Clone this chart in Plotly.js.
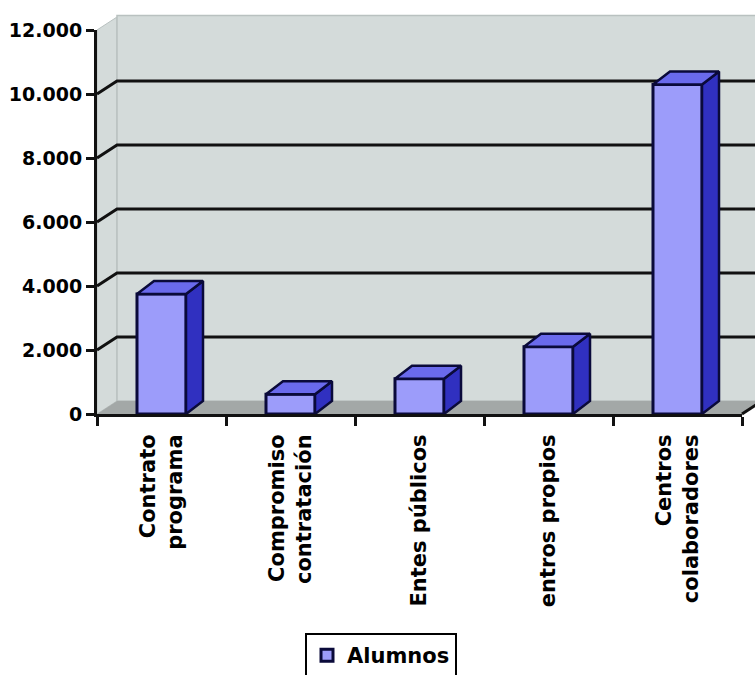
<!DOCTYPE html>
<html>
<head>
<meta charset="utf-8">
<script src="https://cdn.plot.ly/plotly-3.0.1.min.js"></script>
<style>html,body{margin:0;padding:0;background:#fff;}#chart{width:755px;height:675px;}</style>
</head>
<body>
<div id="chart"></div>
<script>
// ---- data ----
const categories = ['Contrato<br>programa', 'Compromiso<br>contratación', 'Entes públicos', 'entros propios', 'Centros<br>colaboradores'];
const alumnos = [3750, 620, 1100, 2100, 10300];
const yTickVals = [0, 2000, 4000, 6000, 8000, 10000, 12000];
const seriesName = 'Alumnos';

// ---- geometry / style ----
const W = 755, H = 675;
const M = {l: 97, r: 13, t: 30, b: 261, autoexpand: false};
const plotW = W - M.l - M.r, plotH = H - M.t - M.b;
const YMAX = 12000;
const xIdx = categories.map((c, i) => i);
const XMIN = -0.5, XMAX = categories.length - 0.5;
const BW = 0.38;
// depth offsets (pixels -> axis units)
const barDx = 17 * (XMAX - XMIN) / plotW;
const barDy = 13 * YMAX / plotH;
const wallDxP = 20 / plotW;        // paper units
const wallDyP = 13 / plotH;
const wallDy = 13 * YMAX / plotH;  // y units

const FONT = 'DejaVu Sans';
const wallCol = '#d4dbda', floorCol = '#a3a8a7', edgeCol = '#b9c1c0';
const frontCol = '#9c9cfa', sideCol = '#3030c0', topCol = '#6a6aec', outline = '#0a0a3a';

// side + top faces built from data values
const sideX = [], sideY = [], topX = [], topY = [];
alumnos.forEach((v, i) => {
  const xl = xIdx[i] - BW / 2, xr = xIdx[i] + BW / 2;
  sideX.push(xr, xr, xr + barDx, xr + barDx, xr, null);
  sideY.push(0, v, v + barDy, barDy, 0, null);
  topX.push(xl, xr, xr + barDx, xl + barDx, xl, null);
  topY.push(v, v, v + barDy, v + barDy, v, null);
});

const traces = [
  {type: 'bar', x: xIdx, y: alumnos, name: seriesName, width: BW,
   marker: {color: frontCol, line: {color: outline, width: 3}}, hoverinfo: 'y'},
  {type: 'scatter', mode: 'lines', x: sideX, y: sideY, fill: 'toself', fillcolor: sideCol,
   line: {color: outline, width: 2.5}, showlegend: false, hoverinfo: 'skip'},
  {type: 'scatter', mode: 'lines', x: topX, y: topY, fill: 'toself', fillcolor: topCol,
   line: {color: outline, width: 2.5}, showlegend: false, hoverinfo: 'skip'}
];

const shapes = [];
// side wall
shapes.push({type: 'path', xref: 'paper', yref: 'paper', layer: 'below',
  path: `M0,0 L0,1 L${wallDxP},${1 + wallDyP} L${wallDxP},${wallDyP} Z`,
  fillcolor: wallCol, line: {color: edgeCol, width: 1}});
// back wall
shapes.push({type: 'rect', xref: 'paper', yref: 'paper', layer: 'below',
  x0: wallDxP, x1: 1.1, y0: wallDyP, y1: 1 + wallDyP + 0.004,
  fillcolor: wallCol, line: {color: edgeCol, width: 1.5}});
// floor
shapes.push({type: 'path', xref: 'paper', yref: 'paper', layer: 'below',
  path: `M0,0 L${wallDxP},${wallDyP} L${1 + wallDxP},${wallDyP} L1,0 Z`,
  fillcolor: floorCol, line: {width: 0}});
// gridlines on back wall with diagonal connectors
yTickVals.filter(v => v > 0 && v < YMAX).forEach(v => {
  shapes.push({type: 'path', xref: 'paper', yref: 'y', layer: 'below',
    path: `M0,${v} L${wallDxP},${v + wallDy} L1.1,${v + wallDy}`,
    line: {color: '#111', width: 3}});
});
// x-axis end diagonal
shapes.push({type: 'line', xref: 'paper', yref: 'paper', layer: 'above',
  x0: 1, y0: 0, x1: 1 + wallDxP, y1: wallDyP, line: {color: '#111', width: 3}});

const layout = {
  width: W, height: H,
  margin: M,
  paper_bgcolor: '#ffffff', plot_bgcolor: 'rgba(0,0,0,0)',
  separators: ',.',
  showlegend: true,
  bargap: 0,
  xaxis: {
    type: 'linear', range: [XMIN, XMAX], fixedrange: true, automargin: false,
    tickvals: xIdx, ticktext: categories, ticks: '', tickangle: -90,
    ticklabelstandoff: 9,
    tickfont: {family: FONT, size: 21, color: '#000', weight: 'bold'},
    showgrid: false, zeroline: false,
    showline: true, linecolor: '#111', linewidth: 3,
    minor: {tickvals: categories.map((c, i) => i - 0.5).concat([XMAX]), ticks: 'outside',
            ticklen: 9, tickwidth: 3, tickcolor: '#111', showgrid: false}
  },
  yaxis: {
    range: [0, YMAX], fixedrange: true, automargin: false,
    tickvals: yTickVals, tickformat: ',d', ticks: 'outside', ticklen: 8, tickwidth: 3, tickcolor: '#111',
    tickfont: {family: FONT, size: 19, color: '#000', weight: 'bold'},
    showgrid: false, zeroline: false,
    showline: true, linecolor: '#111', linewidth: 3
  },
  legend: {
    x: (381 - M.l) / plotW, xanchor: 'center',
    y: (M.t + plotH - 633) / plotH, yanchor: 'top',
    itemwidth: 30,
    bordercolor: '#000', borderwidth: 2, bgcolor: '#fff',
    font: {family: FONT, size: 21, color: '#000', weight: 'bold'}
  },
  shapes: shapes
};

Plotly.newPlot('chart', traces, layout, {displayModeBar: false, staticPlot: true});
</script>
</body>
</html>
